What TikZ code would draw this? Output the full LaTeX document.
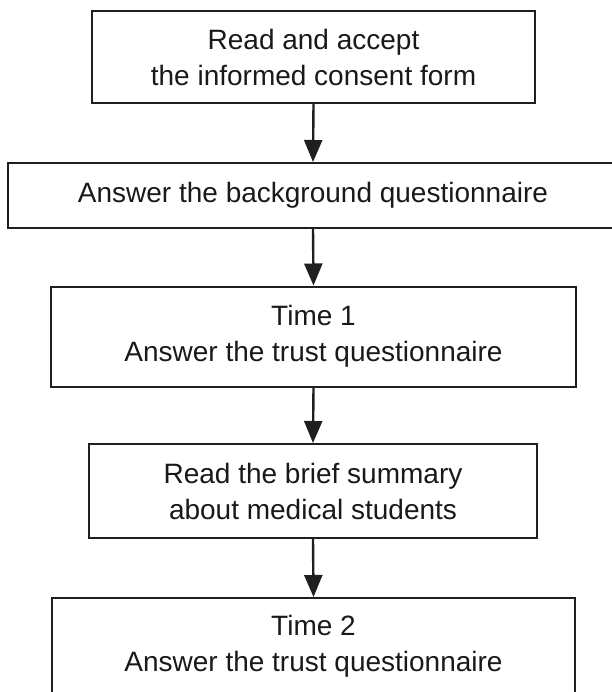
\documentclass[tikz,border=0pt]{standalone}
\usepackage{fontspec}
\setmainfont{Liberation Sans}
\usetikzlibrary{arrows.meta}
\begin{document}
\begin{tikzpicture}[x=1pt,y=-1pt,
  stepbox/.style={draw=black!88,line width=2pt,rectangle,inner sep=0pt,align=center,
    font=\fontsize{28pt}{36pt}\selectfont,text=black!90},
  flow/.style={draw=black!88,line width=2.4pt,-{Triangle[length=22pt,width=18pt]}}]
\useasboundingbox (0,0) rectangle (611,692);
\node[stepbox,minimum width=443pt,minimum height=92pt] (b1) at (313.5,57) {Read and accept\\the informed consent form};
\node[stepbox,minimum width=610pt,minimum height=65pt] (b2) at (313,195.5) {Answer the background questionnaire};
\node[stepbox,minimum width=525pt,minimum height=100pt] (b3) at (313.5,336.5) {Time 1\\Answer the trust questionnaire};
\node[stepbox,minimum width=448pt,minimum height=94pt] (b4) at (313,491) {Read the brief summary\\about medical students};
\node[stepbox,minimum width=523pt,minimum height=96pt] (b5) at (313.5,646) {Time 2\\Answer the trust questionnaire};
\draw[flow] (b1.south) -- (b2.north);
\draw[flow] (b2.south) -- (b3.north);
\draw[flow] (b3.south) -- (b4.north);
\draw[flow] (b4.south) -- (b5.north);
\end{tikzpicture}
\end{document}
